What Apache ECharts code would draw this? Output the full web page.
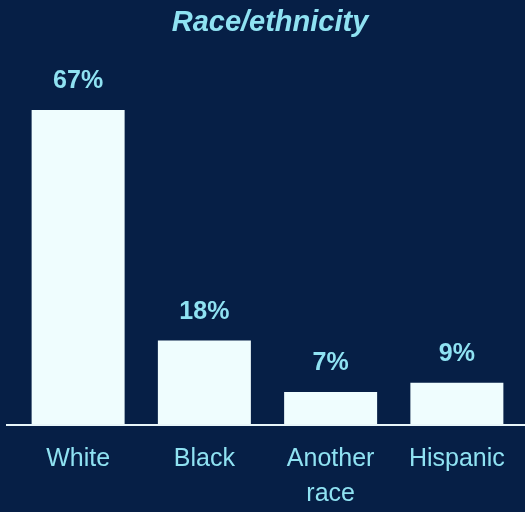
<!DOCTYPE html>
<html>
<head>
<meta charset="utf-8">
<script src="https://cdn.jsdelivr.net/npm/echarts@6/dist/echarts.min.js"></script>
<style>
  html, body { margin: 0; padding: 0; background: #061f46; }
  #chart { width: 525px; height: 512px; }
</style>
</head>
<body>
<div id="chart"></div>
<script>
// Share of respondents by race/ethnicity
const categories = ['White', 'Black', 'Another\nrace', 'Hispanic'];
const shares = [67, 18, 7, 9];

const chart = echarts.init(document.getElementById('chart'));
const labelColor = '#8fe2f2';
const fontFamily = 'Liberation Sans';

chart.setOption({
  backgroundColor: '#061f46',
  animation: false,
  title: {
    text: 'Race/ethnicity',
    left: 265,
    top: 3,
    textAlign: 'center',
    textStyle: {
      color: labelColor,
      fontFamily: fontFamily,
      fontStyle: 'italic',
      fontWeight: 'bold',
      fontSize: 29
    }
  },
  grid: { left: 15, right: 5, top: 49, bottom: 87 },
  xAxis: {
    type: 'category',
    data: categories,
    axisLine: { show: false },
    axisTick: { show: false },
    axisLabel: {
      color: labelColor,
      fontFamily: fontFamily,
      fontSize: 25,
      margin: 17,
      lineHeight: 35
    }
  },
  yAxis: {
    type: 'value',
    min: 0,
    max: 80,
    show: false
  },
  graphic: [{
    type: 'line',
    shape: { x1: 6, y1: 425, x2: 525, y2: 425 },
    style: { stroke: '#e8f6fa', lineWidth: 2 },
    z: 10
  }],
  series: [{
    type: 'bar',
    data: shares,
    barWidth: 93,
    itemStyle: { color: '#effdfe' },
    label: {
      show: true,
      position: 'top',
      distance: 16,
      formatter: '{c}%',
      color: labelColor,
      fontFamily: fontFamily,
      fontWeight: 'bold',
      fontSize: 25
    }
  }]
});
</script>
</body>
</html>
